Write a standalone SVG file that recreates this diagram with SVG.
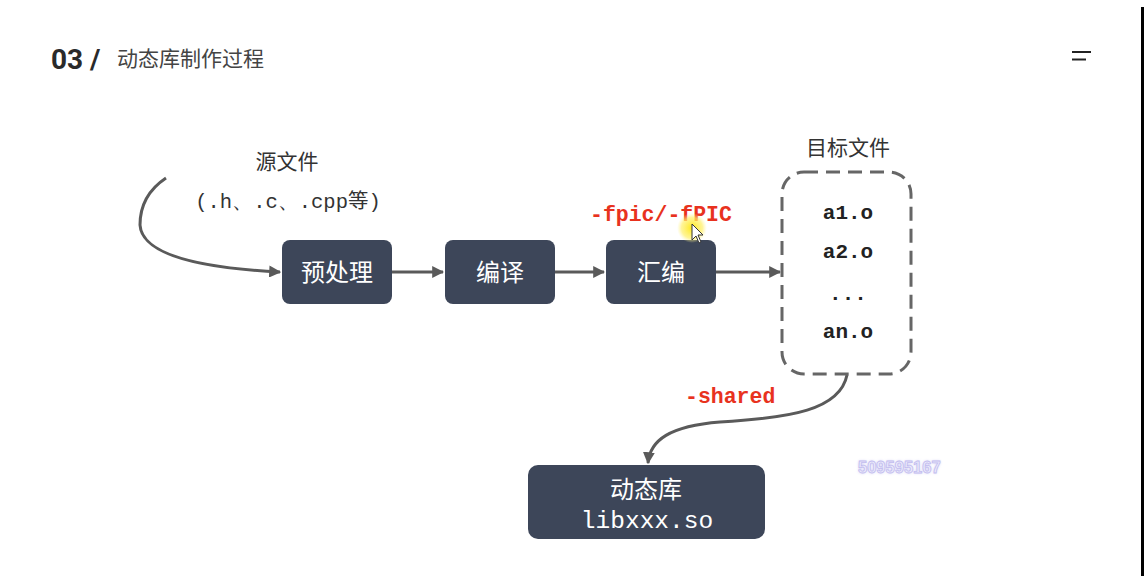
<svg xmlns="http://www.w3.org/2000/svg" width="1146" height="576" viewBox="0 0 1146 576">
<defs>
<style>
.node{fill:#3d4659}
.nt{fill:#ffffff;font-family:"Noto Sans CJK SC","Noto Sans",sans-serif;font-size:24px;text-anchor:middle}
.cn{fill:#333;font-family:"Noto Sans CJK SC","Noto Sans",sans-serif;font-size:21px;text-anchor:middle}
.mono{font-family:"Liberation Mono","DejaVu Sans Mono",monospace}
.obj{fill:#222;font-size:21px;font-weight:bold;text-anchor:middle}
.red{fill:#e8321e;font-size:21.5px;font-weight:bold}
.conn{fill:none;stroke:#5a5a5a;stroke-width:3}
</style>
<marker id="ah" viewBox="0 0 10 10" refX="9" refY="5" markerWidth="4" markerHeight="4" orient="auto" markerUnits="strokeWidth">
<path d="M0,0 L10,5 L0,10 z" fill="#5a5a5a"/>
</marker>
<filter id="glow" x="-20%" y="-50%" width="140%" height="200%">
<feGaussianBlur stdDeviation="1.5"/>
</filter>
<radialGradient id="hl">
<stop offset="0" stop-color="#ffe600" stop-opacity="0.9"/>
<stop offset="0.7" stop-color="#fff06a" stop-opacity="0.7"/>
<stop offset="1" stop-color="#fff6a0" stop-opacity="0"/>
</radialGradient>
</defs>
<rect width="1146" height="576" fill="#ffffff"/>
<line x1="1142.5" y1="7" x2="1142.5" y2="576" stroke="#000" stroke-width="3"/>

<g id="title">
<text x="51" y="69" font-family="Roboto,'Liberation Sans',sans-serif" font-weight="bold" font-size="28" fill="#2a2a2a">03 /</text>
<text x="117" y="66" font-family="'Noto Sans CJK SC','Noto Sans',sans-serif" font-size="21" fill="#444">动态库制作过程</text>
</g>
<g id="menu" stroke="#222" stroke-width="2">
<line x1="1072" y1="52" x2="1091" y2="52"/>
<line x1="1072" y1="59.5" x2="1086" y2="59.5"/>
</g>

<g id="connectors">
<path class="conn" d="M166,178 C148,190 140,205 140,225 C142,255 200,268 280,272" marker-end="url(#ah)"/>
<line class="conn" x1="392" y1="272" x2="443" y2="272" marker-end="url(#ah)"/>
<line class="conn" x1="555" y1="272" x2="604" y2="272" marker-end="url(#ah)"/>
<line class="conn" x1="716" y1="272" x2="780" y2="272" marker-end="url(#ah)"/>
<path class="conn" d="M847,375 C840,410 790,418 720,422 C670,426 650,440 648,463" marker-end="url(#ah)"/>
</g>

<g id="source">
<text class="cn" x="287" y="169">源文件</text>
<text class="mono" x="288" y="208" font-size="20.5" fill="#333" text-anchor="middle">(.h、.c、.cpp<tspan font-family="'Noto Sans CJK SC',sans-serif">等</tspan>)</text>
</g>

<g id="n-preprocess">
<rect class="node" x="282" y="240" width="110" height="64" rx="8"/>
<text class="nt" x="337" y="281">预处理</text>
</g>
<g id="n-compile">
<rect class="node" x="445" y="240" width="110" height="64" rx="8"/>
<text class="nt" x="500" y="281">编译</text>
</g>
<g id="n-assemble">
<rect class="node" x="606" y="240" width="110" height="64" rx="8"/>
<text class="nt" x="661" y="281">汇编</text>
</g>

<g id="label-fpic">
<text class="mono red" x="590" y="221">-fpic/-fPIC</text>
</g>

<g id="objects">
<text class="cn" x="848" y="155">目标文件</text>
<rect x="782" y="172" width="129" height="202" rx="22" fill="none" stroke="#666" stroke-width="3" stroke-dasharray="14 8"/>
<text class="mono obj" x="848" y="219">a1.o</text>
<text class="mono obj" x="848" y="258">a2.o</text>
<text class="mono obj" x="848" y="300">...</text>
<text class="mono obj" x="848" y="338">an.o</text>
</g>

<g id="label-shared">
<text class="mono red" x="685" y="403">-shared</text>
</g>

<g id="n-lib">
<rect class="node" x="528" y="465" width="237" height="74" rx="10"/>
<text class="nt" x="646" y="498">动态库</text>
<text class="mono" x="647" y="528" font-size="24.5" fill="#ffffff" text-anchor="middle">libxxx.so</text>
</g>

<g id="watermark">
<text x="858" y="473" font-family="'Liberation Sans',sans-serif" font-size="16.5" font-weight="bold" fill="#c9c4f2" filter="url(#glow)">509595167</text>
<text x="858" y="473" font-family="'Liberation Sans',sans-serif" font-size="16.5" font-weight="bold" fill="#ecebfb" stroke="#c2bcef" stroke-width="0.8">509595167</text>
</g>

<g id="cursor">
<circle cx="692" cy="228" r="15" fill="url(#hl)"/>
<path d="M692,224 L692,240 L696,236 L699,243 L701,242 L698,235 L703,235 Z" fill="#fff" stroke="#333" stroke-width="1"/>
</g>
</svg>
